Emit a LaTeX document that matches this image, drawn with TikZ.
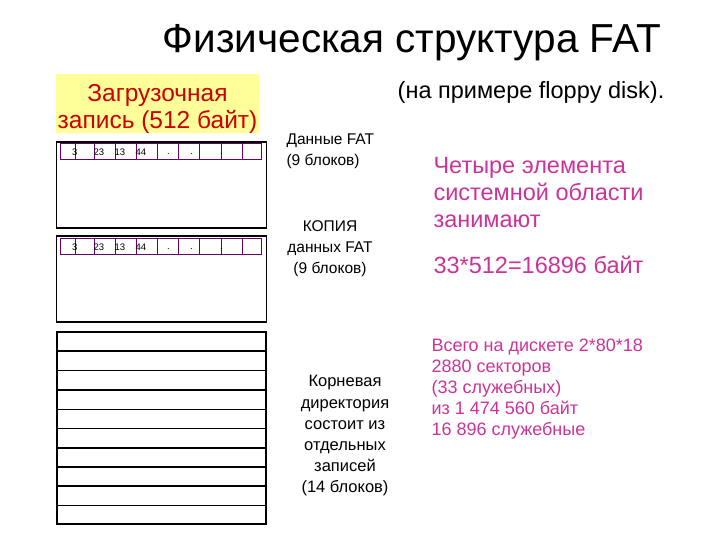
\documentclass[tikz,border=0pt]{standalone}
\usepackage{fontspec}
\setmainfont{Liberation Sans}
\definecolor{bootred}{HTML}{CC0000}
\definecolor{notepink}{HTML}{CC3399}
\definecolor{cellpurple}{HTML}{660066}
\definecolor{bootyellow}{HTML}{FFFF99}

\begin{document}
\begin{tikzpicture}[x=1pt, y=-1pt,
        areabox/.style={draw=black, line width=1.1pt, minimum width=210pt, minimum height=86pt},
        rootbox/.style={draw=black, line width=2.2pt, minimum width=209pt, minimum height=192pt},
        cellrow/.style={draw=cellpurple, line width=0.6pt},
        cellnum/.style={anchor=west, inner sep=0pt, font=\fontsize{9.5}{10}\selectfont},
        rowline/.style={draw=black, line width=1.1pt},
        midtext/.style={align=center, font=\fontsize{15.5}{21}\selectfont},
        pinktext/.style={anchor=west, align=left, text=notepink}]

        \useasboundingbox (0,0) rectangle (720,540);

        % title
        \node (title) at (412,43) {\fontsize{40.5}{44}\selectfont Физическая структура FAT};
        \node (example) at (531,92) {\fontsize{23.5}{26}\selectfont (на примере floppy disk).};

        % boot record
        \node[fill=bootyellow, minimum width=203pt, minimum height=59pt] (boot) at (157.5,104) {};
        \node[align=center, text=bootred, font=\fontsize{24.5}{27}\selectfont] (bootlabel)
              at ([yshift=-5pt]boot.center) {Загрузочная\\запись (512 байт)};

        % FAT and its copy
        \node[areabox] (fat1) at (161.5,185) {};
        \node[areabox] (fat2) at (161.5,279) {};

        \node[cellrow, minimum width=201pt, minimum height=16pt] (row1) at (160.5,151) {};
        \draw[cellrow] (75,143) -- (75,159) (94.5,143) -- (94.5,159) (115.5,143) -- (115.5,159)
            (136.5,143) -- (136.5,159) (157.5,143) -- (157.5,159) (178.5,143) -- (178.5,159)
            (199.5,143) -- (199.5,159) (221,143) -- (221,159) (242,143) -- (242,159);
        \node[cellnum] (n13) at (72,152) {3};
        \node[cellnum] (n123) at (93.5,152) {23};
        \node[cellnum] (n113) at (114.5,152) {13};
        \node[cellnum] (n144) at (135.5,152) {44};
        \node[cellnum] (d11) at (167,154) {.};
        \node[cellnum] (d12) at (190,154) {.};
        \node[cellnum] (d13) at (220,154) {.};

        \node[cellrow, minimum width=201pt, minimum height=16pt] (row2) at (160.5,246) {};
        \draw[cellrow] (75,238) -- (75,254) (94.5,238) -- (94.5,254) (115.5,238) -- (115.5,254)
            (136.5,238) -- (136.5,254) (157.5,238) -- (157.5,254) (178.5,238) -- (178.5,254)
            (199.5,238) -- (199.5,254) (221,238) -- (221,254) (242,238) -- (242,254);
        \node[cellnum] (n23) at (72,247) {3};
        \node[cellnum] (n223) at (93.5,247) {23};
        \node[cellnum] (n213) at (114.5,247) {13};
        \node[cellnum] (n244) at (135.5,247) {44};
        \node[cellnum] (d21) at (167,249) {.};
        \node[cellnum] (d22) at (190,249) {.};
        \node[cellnum] (d23) at (220,249) {.};

        % root directory
        \node[rootbox] (root) at (161.5,428) {};
        \draw[rowline] (58,351) -- (265,351) (58,370.5) -- (265,370.5) (58,390) -- (265,390)
            (58,409.5) -- (265,409.5) (58,428.5) -- (265,428.5) (58,448) -- (265,448)
            (58,467) -- (265,467) (58,486) -- (265,486) (58,505.5) -- (265,505.5);

        % captions
        \node[midtext, anchor=west, align=left] (fatlabel) at (283,151) {Данные FAT\\(9 блоков)};
        \node[midtext] (copylabel) at (330,249) {КОПИЯ\\данных FAT\\(9 блоков)};
        \node[midtext, font=\fontsize{16.5}{21.2}\selectfont] (rootlabel) at (345,436)
              {Корневая\\директория\\состоит из\\отдельных\\записей\\(14 блоков)};

        \node[pinktext, font=\fontsize{23.5}{27}\selectfont] (four) at (430,193)
              {Четыре элемента\\системной области\\занимают};
        \node[pinktext, font=\fontsize{23.5}{27}\selectfont] (total) at (430,265) {33*512=16896 байт};
        \node[pinktext, font=\fontsize{18}{21.2}\selectfont] (disk) at (428,389)
              {Всего на дискете 2*80*18\\2880 секторов\\(33 служебных)\\из 1 474 560 байт\\16 896 служебные};
    \end{tikzpicture}
\end{document}
